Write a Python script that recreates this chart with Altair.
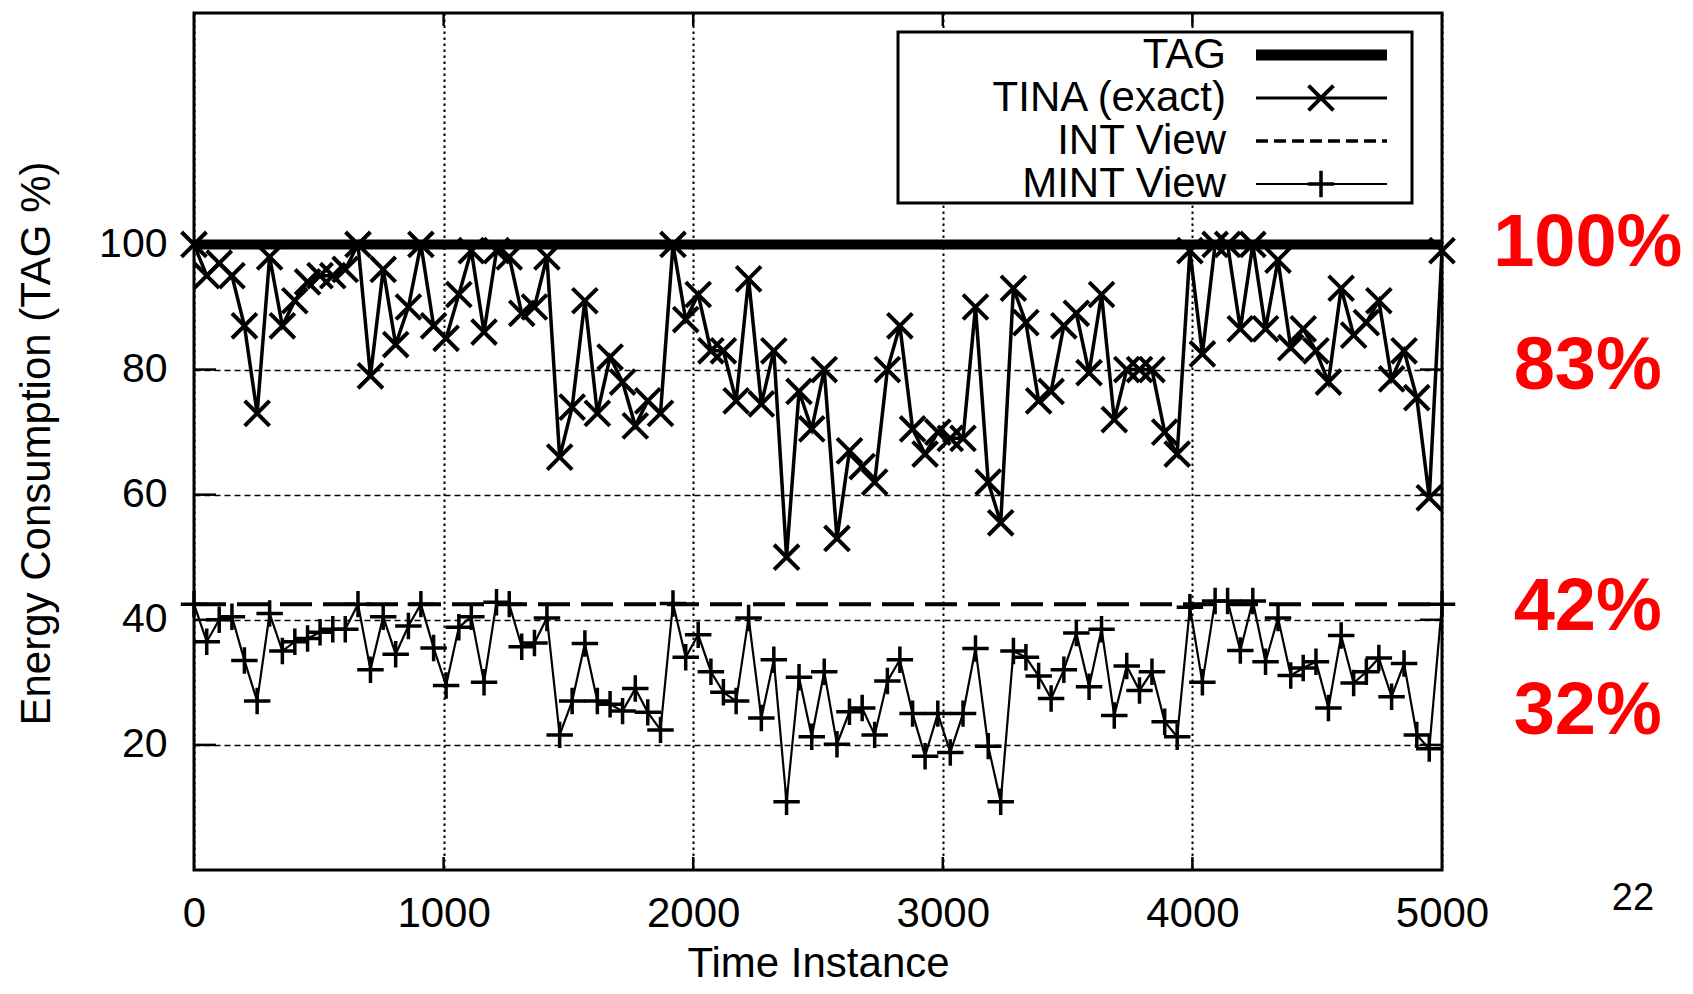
import altair as alt
import pandas as pd

# ---------------- data ----------------
time_instance = [0, 51, 101, 152, 202, 253, 303, 354, 404, 455,
                 505, 556, 606, 657, 707, 758, 808, 859, 909, 960,
                 1010, 1061, 1111, 1162, 1212, 1263, 1313, 1364, 1414, 1465,
                 1515, 1566, 1616, 1667, 1717, 1768, 1818, 1869, 1919, 1970,
                 2020, 2071, 2121, 2172, 2222, 2273, 2323, 2374, 2424, 2475,
                 2525, 2576, 2626, 2677, 2727, 2778, 2828, 2879, 2929, 2980,
                 3030, 3081, 3131, 3182, 3232, 3283, 3333, 3384, 3434, 3485,
                 3535, 3586, 3636, 3687, 3737, 3788, 3838, 3889, 3939, 3990,
                 4040, 4091, 4141, 4192, 4242, 4293, 4343, 4394, 4444, 4495,
                 4545, 4596, 4646, 4697, 4747, 4798, 4848, 4899, 4949, 5000]

tina_exact = [100, 95, 97, 95, 87, 73, 98, 87, 91, 94,
              95, 95, 96, 100, 79, 96, 84, 90, 100, 87,
              85, 92, 99, 86, 99, 98, 89, 90, 98, 66,
              74, 91, 73, 82, 78, 71, 75, 73, 100, 88,
              92, 83, 83, 75, 94.5, 74.5, 83, 50, 76.5, 70.5,
              80, 53, 67, 64.5, 62, 80, 87, 70.5, 66.5, 70,
              69, 69, 90, 62, 55.5, 93, 87.5, 75, 76.5, 87,
              89, 79.5, 92, 72, 80, 80, 80, 70, 66.5, 99,
              82.5, 100, 100, 86.5, 100, 86.5, 97.5, 83.5, 86.5, 83,
              78, 93, 85.5, 87.5, 91, 78.5, 83, 75.5, 59.5, 99]

mint_view = [42.5, 36.5, 40, 40.5, 33.5, 27, 41, 35, 36.5, 37,
             38, 38.5, 38.5, 42.5, 32, 40.5, 34.5, 39, 42.5, 35.5,
             29.5, 38.8, 40.5, 30, 42.8, 42.5, 35.7, 36.3, 40.3, 21.6,
             27, 36.2, 27, 26.5, 25.4, 29, 25.2, 22.4, 42.6, 34,
             37.6, 31.7, 28.4, 27, 40.3, 24.3, 33.6, 10.9, 30.8, 21.3,
             31.7, 20.1, 25.3, 25.9, 21.6, 30.2, 33.6, 25, 18.2, 25,
             18.8, 25, 35.4, 19.8, 10.9, 35, 34, 31, 27.4, 32,
             37.9, 29.3, 38.5, 24.7, 32.6, 28.7, 31.7, 23.7, 21.3, 42,
             30, 43, 43, 35.1, 43, 33.3, 40.3, 31.1, 32.3, 33.3,
             25.9, 37.5, 29.9, 31.7, 33.9, 27.7, 33, 21.6, 19.4, 42.5]

tag_level = [100, 100]
int_level = [42.5, 42.5]
line_span = [0, 5000]

x_ticks = [0, 1000, 2000, 3000, 4000, 5000]
x_inner_ticks = [1000, 2000, 3000, 4000]
y_ticks = [20, 40, 60, 80, 100]

legend_labels = ["TAG", "TINA (exact)", "INT View", "MINT View"]

red_labels = ["100%", "83%", "42%", "32%"]
red_label_y = [100, 80.4, 41.9, 25.2]
red_label_x = [5584, 5584, 5584, 5584]

page_number = ["22"]

# ---------------- layout / style ----------------
W, H = 1248, 857
FONT = "Liberation Sans"
XSHAPE = "M-1,-1L1,1M-1,1L1,-1"
PSHAPE = "M-1,0L1,0M0,-1L0,1"

xs = alt.Scale(domain=[0, 5000], nice=False, zero=False)
ys = alt.Scale(domain=[0, 137], nice=False, zero=False)

x_axis = alt.Axis(values=x_ticks, format="d", title="Time Instance", grid=True,
                  gridDash=[2.5, 3.5], gridColor="black", gridWidth=2, gridOpacity=1,
                  ticks=False, tickSize=0, domain=False,
                  labelFont=FONT, labelFontSize=42, labelColor="black",
                  labelPadding=43, labelBaseline="middle", labelFlush=False,
                  titleFont=FONT, titleFontSize=42, titleFontWeight="normal",
                  titleColor="black", titleY=93, titleBaseline="middle")
y_axis = alt.Axis(values=y_ticks, format="d", title="Energy Consumption (TAG %)", grid=True,
                  gridDash=[6, 4], gridColor="black", gridWidth=1.5, gridOpacity=1,
                  ticks=False, tickSize=0, domain=False,
                  labelFont=FONT, labelFontSize=41, labelColor="black",
                  labelPadding=27, labelBaseline="middle",
                  titleFont=FONT, titleFontSize=42, titleFontWeight="normal",
                  titleColor="black", titleX=-158, titleY=430,
                  titleAngle=270, titleBaseline="middle", titleAlign="center")


def X(field):
    return alt.X(field, type="quantitative", scale=xs, axis=x_axis)


def Y(field):
    return alt.Y(field, type="quantitative", scale=ys, axis=y_axis)


df = pd.DataFrame({"t": time_instance, "tina": tina_exact, "mint": mint_view})
tag_df = pd.DataFrame({"t": line_span, "v": tag_level})
int_df = pd.DataFrame({"t": line_span, "v": int_level})

tag_line = alt.Chart(tag_df).mark_line(color="black", strokeWidth=10).encode(
    x=X("t"), y=Y("v"))
int_line = alt.Chart(int_df).mark_line(color="black", strokeWidth=4,
                                       strokeDash=[32, 11], strokeCap="butt").encode(
    x=X("t"), y=Y("v"))
tina_line = alt.Chart(df).mark_line(color="black", strokeWidth=3.5).encode(
    x=X("t"), y=Y("tina"))
tina_pts = alt.Chart(df).mark_point(shape=XSHAPE, filled=False, color="black",
                                    strokeWidth=4, size=620, opacity=1).encode(
    x=X("t"), y=Y("tina"))
mint_line = alt.Chart(df).mark_line(color="black", strokeWidth=2.2).encode(
    x=X("t"), y=Y("mint"))
mint_pts = alt.Chart(df).mark_point(shape=PSHAPE, filled=False, color="black",
                                    strokeWidth=3.5, size=700, opacity=1).encode(
    x=X("t"), y=Y("mint"))

# inward (gnuplot style) ticks on all four sides
ytick_df = pd.DataFrame({"v": y_ticks})
xtick_df = pd.DataFrame({"t": x_inner_ticks})
left_ticks = alt.Chart(ytick_df).mark_rule(color="black", strokeWidth=2.5).encode(
    y=Y("v"), x=alt.value(0), x2=alt.value(22))
right_ticks = alt.Chart(ytick_df).mark_rule(color="black", strokeWidth=2.5).encode(
    y=Y("v"), x=alt.value(W - 22), x2=alt.value(W))
bottom_ticks = alt.Chart(xtick_df).mark_rule(color="black", strokeWidth=2.5).encode(
    x=X("t"), y=alt.value(H), y2=alt.value(H - 13))
top_ticks = alt.Chart(xtick_df).mark_rule(color="black", strokeWidth=2.5).encode(
    x=X("t"), y=alt.value(0), y2=alt.value(13))

# custom legend box
one = pd.DataFrame({"a": [0]})
leg_box = alt.Chart(one).mark_rect(fill="white", stroke="black", strokeWidth=3).encode(
    x=alt.value(704), x2=alt.value(1218), y=alt.value(19), y2=alt.value(190))

rows = [42, 85, 128, 171]
leg_texts = [
    alt.Chart(one).mark_text(align="right", baseline="middle", font=FONT, fontSize=42,
                             color="black", text=lab).encode(
        x=alt.value(1032), y=alt.value(r))
    for lab, r in zip(legend_labels, rows)
]

leg_tag = alt.Chart(one).mark_rule(color="black", strokeWidth=11).encode(
    x=alt.value(1062), x2=alt.value(1193), y=alt.value(rows[0]))
leg_tina = alt.Chart(one).mark_rule(color="black", strokeWidth=3).encode(
    x=alt.value(1062), x2=alt.value(1193), y=alt.value(rows[1]))
leg_tina_pt = alt.Chart(one).mark_point(shape=XSHAPE, filled=False, color="black",
                                        strokeWidth=4, size=620, opacity=1).encode(
    x=alt.value(1127), y=alt.value(rows[1]))
leg_int = alt.Chart(one).mark_rule(color="black", strokeWidth=3.5, strokeDash=[12, 6]).encode(
    x=alt.value(1062), x2=alt.value(1193), y=alt.value(rows[2]))
leg_mint = alt.Chart(one).mark_rule(color="black", strokeWidth=2.2).encode(
    x=alt.value(1062), x2=alt.value(1193), y=alt.value(rows[3]))
leg_mint_pt = alt.Chart(one).mark_point(shape=PSHAPE, filled=False, color="black",
                                        strokeWidth=3.5, size=700, opacity=1).encode(
    x=alt.value(1127), y=alt.value(rows[3]))

# red annotations and page number
red_df = pd.DataFrame({"label": red_labels, "x": red_label_x, "y": red_label_y})
red_text = alt.Chart(red_df).mark_text(align="center", baseline="middle", font=FONT,
                                       fontSize=74, fontWeight="bold", color="#ff0000").encode(
    x=X("x"), y=Y("y"), text="label:N")

page_df = pd.DataFrame({"label": page_number, "x": [5765], "y": [-4.6]})
page_text = alt.Chart(page_df).mark_text(align="center", baseline="middle", font=FONT,
                                         fontSize=38, color="black").encode(
    x=X("x"), y=Y("y"), text="label:N")

chart = alt.layer(
    tag_line, int_line, tina_line, mint_line, tina_pts, mint_pts,
    left_ticks, right_ticks, bottom_ticks, top_ticks,
    leg_box, *leg_texts, leg_tag, leg_tina, leg_tina_pt, leg_int, leg_mint, leg_mint_pt,
    red_text, page_text,
).properties(
    width=W, height=H,
    autosize=alt.AutoSizeParams(type="none"),
    padding={"left": 186, "top": 5, "right": 240, "bottom": 120},
    background="white",
).configure_view(stroke="black", strokeWidth=3)

chart.save("out.html", embed_options={"renderer": "svg", "actions": False})
